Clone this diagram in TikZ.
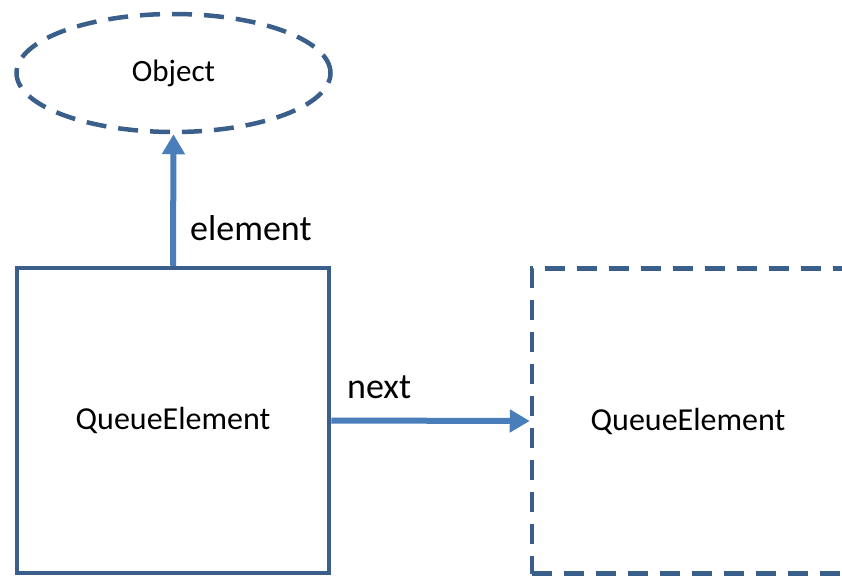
\documentclass[tikz,border=0pt]{standalone}
\usepackage{fontspec}
\setmainfont{Carlito}
\usetikzlibrary{shapes.geometric,arrows.meta}
\definecolor{edgeblue}{RGB}{58,95,139}
\definecolor{arrowblue}{RGB}{74,126,187}
\begin{document}
\begin{tikzpicture}[x=1pt,y=-1pt,
  box/.style={draw=edgeblue,line width=4.5pt,minimum width=312pt,minimum height=305pt,inner sep=0pt,font=\fontsize{32}{36}\selectfont},
  dashbox/.style={box,dash pattern=on 20pt off 12pt},
  obj/.style={ellipse,draw=edgeblue,line width=4.5pt,dash pattern=on 20pt off 12pt,minimum width=314pt,minimum height=118pt,inner sep=0pt,font=\fontsize{31}{36}\selectfont},
  link/.style={draw=arrowblue,line width=6pt,-{Triangle[length=20pt,width=22pt]}},
  lbl/.style={font=\fontsize{36}{40}\selectfont,inner sep=0pt}]
\useasboundingbox (0,0) rectangle (842,576);
\node[obj] (o) at (173.5,73) {Object};
\node[box] (q1) at (173,420.5) {QueueElement};
\node[dashbox] (q2) at (688,421) {QueueElement};
\draw[link] (q1.north) -- (o.south);
\draw[link] (q1.east) -- (q2.west);
\node[lbl,anchor=base west] (le) at (190,240) {element};
\node[lbl,anchor=base west] (ln) at (347,398) {next};
\end{tikzpicture}
\end{document}
